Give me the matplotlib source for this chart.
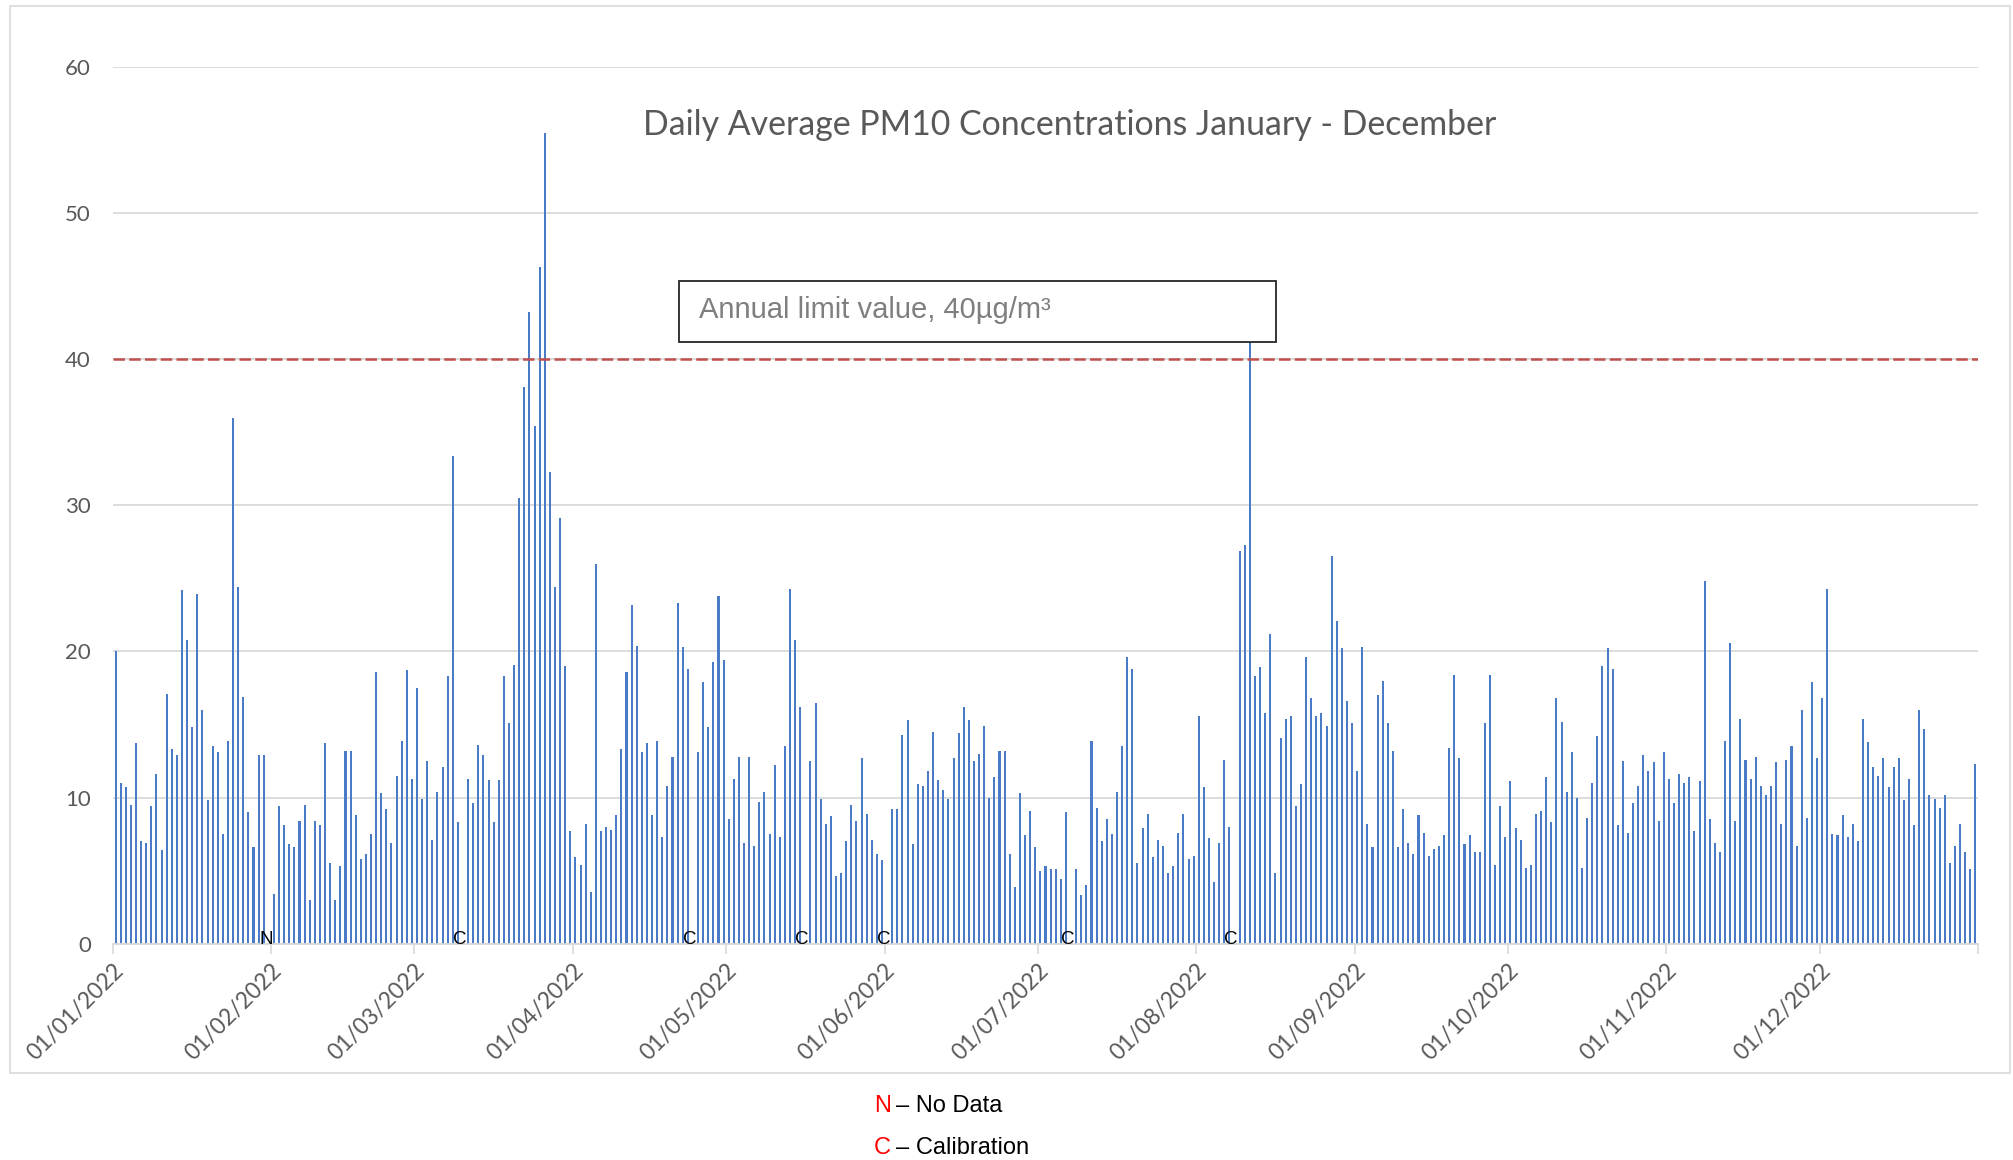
import numpy as np
import matplotlib.pyplot as plt
from matplotlib.patches import Rectangle

nan = np.nan

# daily average PM10 (ug/m3); nan = no bar
jan = [20.0, 11.0, 10.7, 9.5, 13.7, 7.0, 6.9, 9.4, 11.6, 6.4, 17.1, 13.3, 12.9, 24.2, 20.8, 14.8,
       23.9, 16.0, 9.8, 13.5, 13.1, 7.5, 13.9, 36.0, 24.4, 16.9, 9.0, 6.6, 12.9, 12.9, nan]
feb = [3.4, 9.4, 8.1, 6.8, 6.6, 8.4, 9.5, 3.0, 8.4, 8.1, 13.7, 5.5, 3.0, 5.3, 13.2, 13.2,
       8.8, 5.8, 6.1, 7.5, 18.6, 10.3, 9.2, 6.9, 11.5, 13.9, 18.7, 11.3]
mar = [17.5, 9.9, 12.5, 7.1, 10.4, 12.1, 18.3, 33.4, 8.3, nan, 11.3, 9.6, 13.6, 12.9, 11.2, 8.3,
       11.2, 18.3, 15.1, 19.1, 30.5, 38.1, 43.2, 35.4, 46.3, 55.5, 32.3, 24.4, 29.1, 19.0, 7.7]
apr = [5.9, 5.4, 8.2, 3.5, 26.0, 7.7, 8.0, 7.8, 8.8, 13.3, 18.6, 23.2, 20.4, 13.1, 13.7,
       8.8, 13.9, 7.3, 10.8, 12.8, 23.3, 20.3, 18.8, nan, 13.1, 17.9, 14.8, 19.3, 23.8, 19.4]
may = [8.5, 11.3, 12.8, 6.9, 12.8, 6.7, 9.7, 10.4, 7.5, 12.2, 7.3, 13.5, 24.3, 20.8, 16.2, nan,
       12.5, 16.5, 9.9, 8.2, 8.7, 4.6, 4.8, 7.0, 9.5, 8.4, 12.7, 8.9, 7.1, 6.1, 5.7]
jun = [nan, 9.2, 9.2, 14.3, 15.3, 6.8, 10.9, 10.8, 11.8, 14.5, 11.2, 10.5, 9.9, 12.7, 14.4,
       16.2, 15.3, 12.5, 13.0, 14.9, 10.0, 11.4, 13.2, 13.2, 6.1, 3.9, 10.3, 7.4, 9.1, 6.6]
jul = [5.0, 5.3, 5.1, 5.1, 4.4, 9.0, nan, 5.1, 3.3, 4.0, 13.9, 9.3, 7.0, 8.5, 7.5, 10.4,
       13.5, 19.6, 18.8, 5.5, 7.9, 8.9, 5.9, 7.1, 6.7, 4.8, 5.3, 7.6, 8.9, 5.8, 6.0]
aug = [15.6, 10.7, 7.2, 4.2, 6.9, 12.6, 8.0, nan, 26.9, 27.3, 41.2, 18.3, 18.9, 15.8, 21.2, 4.8,
       14.1, 15.4, 15.6, 9.4, 10.9, 19.6, 16.8, 15.6, 15.8, 14.9, 26.5, 22.1, 20.2, 16.6, 15.1]
sep = [11.8, 20.3, 8.2, 6.6, 17.0, 18.0, 15.1, 13.2, 6.6, 9.2, 6.9, 6.1, 8.8, 7.6, 6.0,
       6.5, 6.7, 7.4, 13.4, 18.4, 12.7, 6.8, 7.4, 6.3, 6.3, 15.1, 18.4, 5.4, 9.4, 7.3]
octo = [11.1, 7.9, 7.1, 5.2, 5.4, 8.9, 9.1, 11.4, 8.3, 16.8, 15.2, 10.4, 13.1, 10.0, 5.2, 8.6,
        11.0, 14.2, 19.0, 20.2, 18.8, 8.1, 12.5, 7.6, 9.6, 10.8, 12.9, 11.8, 12.4, 8.4, 13.1]
nov = [11.3, 9.6, 11.6, 11.0, 11.4, 7.7, 11.1, 24.8, 8.5, 6.9, 6.3, 13.9, 20.6, 8.4, 15.4,
       12.6, 11.3, 12.8, 10.8, 10.2, 10.8, 12.4, 8.2, 12.6, 13.5, 6.7, 16.0, 8.6, 17.9, 12.7]
dec = [16.8, 24.3, 7.5, 7.4, 8.8, 7.3, 8.2, 7.0, 15.4, 13.8, 12.1, 11.5, 12.7, 10.7, 12.1, 12.7,
       9.8, 11.3, 8.1, 16.0, 14.7, 10.2, 9.9, 9.3, 10.2, 5.5, 6.7, 8.2, 6.3, 5.1, 12.3]

pm10 = np.array(jan + feb + mar + apr + may + jun + jul + aug + sep + octo + nov + dec)
days = np.arange(len(pm10))

month_start = [0, 31, 59, 90, 120, 151, 181, 212, 243, 273, 304, 334, 365]
month_labels = ['01/01/2022', '01/02/2022', '01/03/2022', '01/04/2022', '01/05/2022',
                '01/06/2022', '01/07/2022', '01/08/2022', '01/09/2022', '01/10/2022',
                '01/11/2022', '01/12/2022', '']
no_data_days = [30]
calibration_days = [68, 113, 135, 151, 187, 219]
limit_value = 40

grey = '#595959'

fig = plt.figure(figsize=(20.13, 11.6), dpi=100)
fig.patches.append(Rectangle((10 / 2013, 1 - 1073 / 1160), 2000 / 2013, 1067 / 1160,
                             transform=fig.transFigure, fill=False, ec='#d9d9d9', lw=1.2))

ax = fig.add_axes([113 / 2013, 1 - 943.6 / 1160, 1865 / 2013, 876.6 / 1160])
ax.bar(days + 0.5, pm10, width=0.4, color='#4a7bc6', lw=0, zorder=2)
ax.axhline(limit_value, color='#c0504d', lw=1.8, ls=(0, (4.6, 1.7)), zorder=3)

ax.set_xlim(0, 365)
ax.set_ylim(0, 60)
ax.set_yticks(range(0, 61, 10))
ax.grid(axis='y', color='#d9d9d9', lw=1.3)
ax.set_axisbelow(True)
for s in ['top', 'right', 'left']:
    ax.spines[s].set_visible(False)
ax.spines['bottom'].set_color('#d9d9d9')
ax.spines['bottom'].set_linewidth(1.3)

ax.set_xticks(month_start)
ax.set_xticklabels(month_labels, rotation=45, ha='right', rotation_mode='anchor',
                   family='Lato', fontsize=16.5)
ax.tick_params(axis='x', length=7, width=1.2, color='#d9d9d9', labelcolor=grey, pad=5)
ax.tick_params(axis='y', length=0, pad=16, labelsize=16, labelcolor=grey)
for lbl in ax.get_yticklabels():
    lbl.set_family('Lato')

ax.text(187.3, 56.0, 'Daily Average PM10 Concentrations January - December',
        ha='center', va='center', fontsize=24.4, color=grey, family='Lato')

# annotation box for the limit line
ax.add_patch(Rectangle((110.8, 41.2), 116.8, 4.15, fc='white', ec='#262626', lw=1.3, zorder=4))
ax.text(114.6, 43.35, 'Annual limit value, 40µg/m³', ha='left', va='center', fontsize=21,
        color='#7f7f7f', family='Liberation Sans', zorder=5)

for d in no_data_days:
    ax.text(d, -0.3, 'N', ha='center', va='bottom', fontsize=13.5, family='Liberation Sans')
for d in calibration_days:
    ax.text(d - 0.2, -0.3, 'C', ha='center', va='bottom', fontsize=13.5, family='Liberation Sans')

# key below the chart
for y, key, desc in [(1112, 'N', '– No Data'), (1154, 'C', '– Calibration')]:
    fig.text(874 / 2013, 1 - y / 1160, key, color='red', fontsize=17,
             family='Liberation Sans', va='baseline')
    fig.text(896 / 2013, 1 - y / 1160, desc, color='black', fontsize=17,
             family='Liberation Sans', va='baseline')

fig.savefig('out.png', dpi=100)
